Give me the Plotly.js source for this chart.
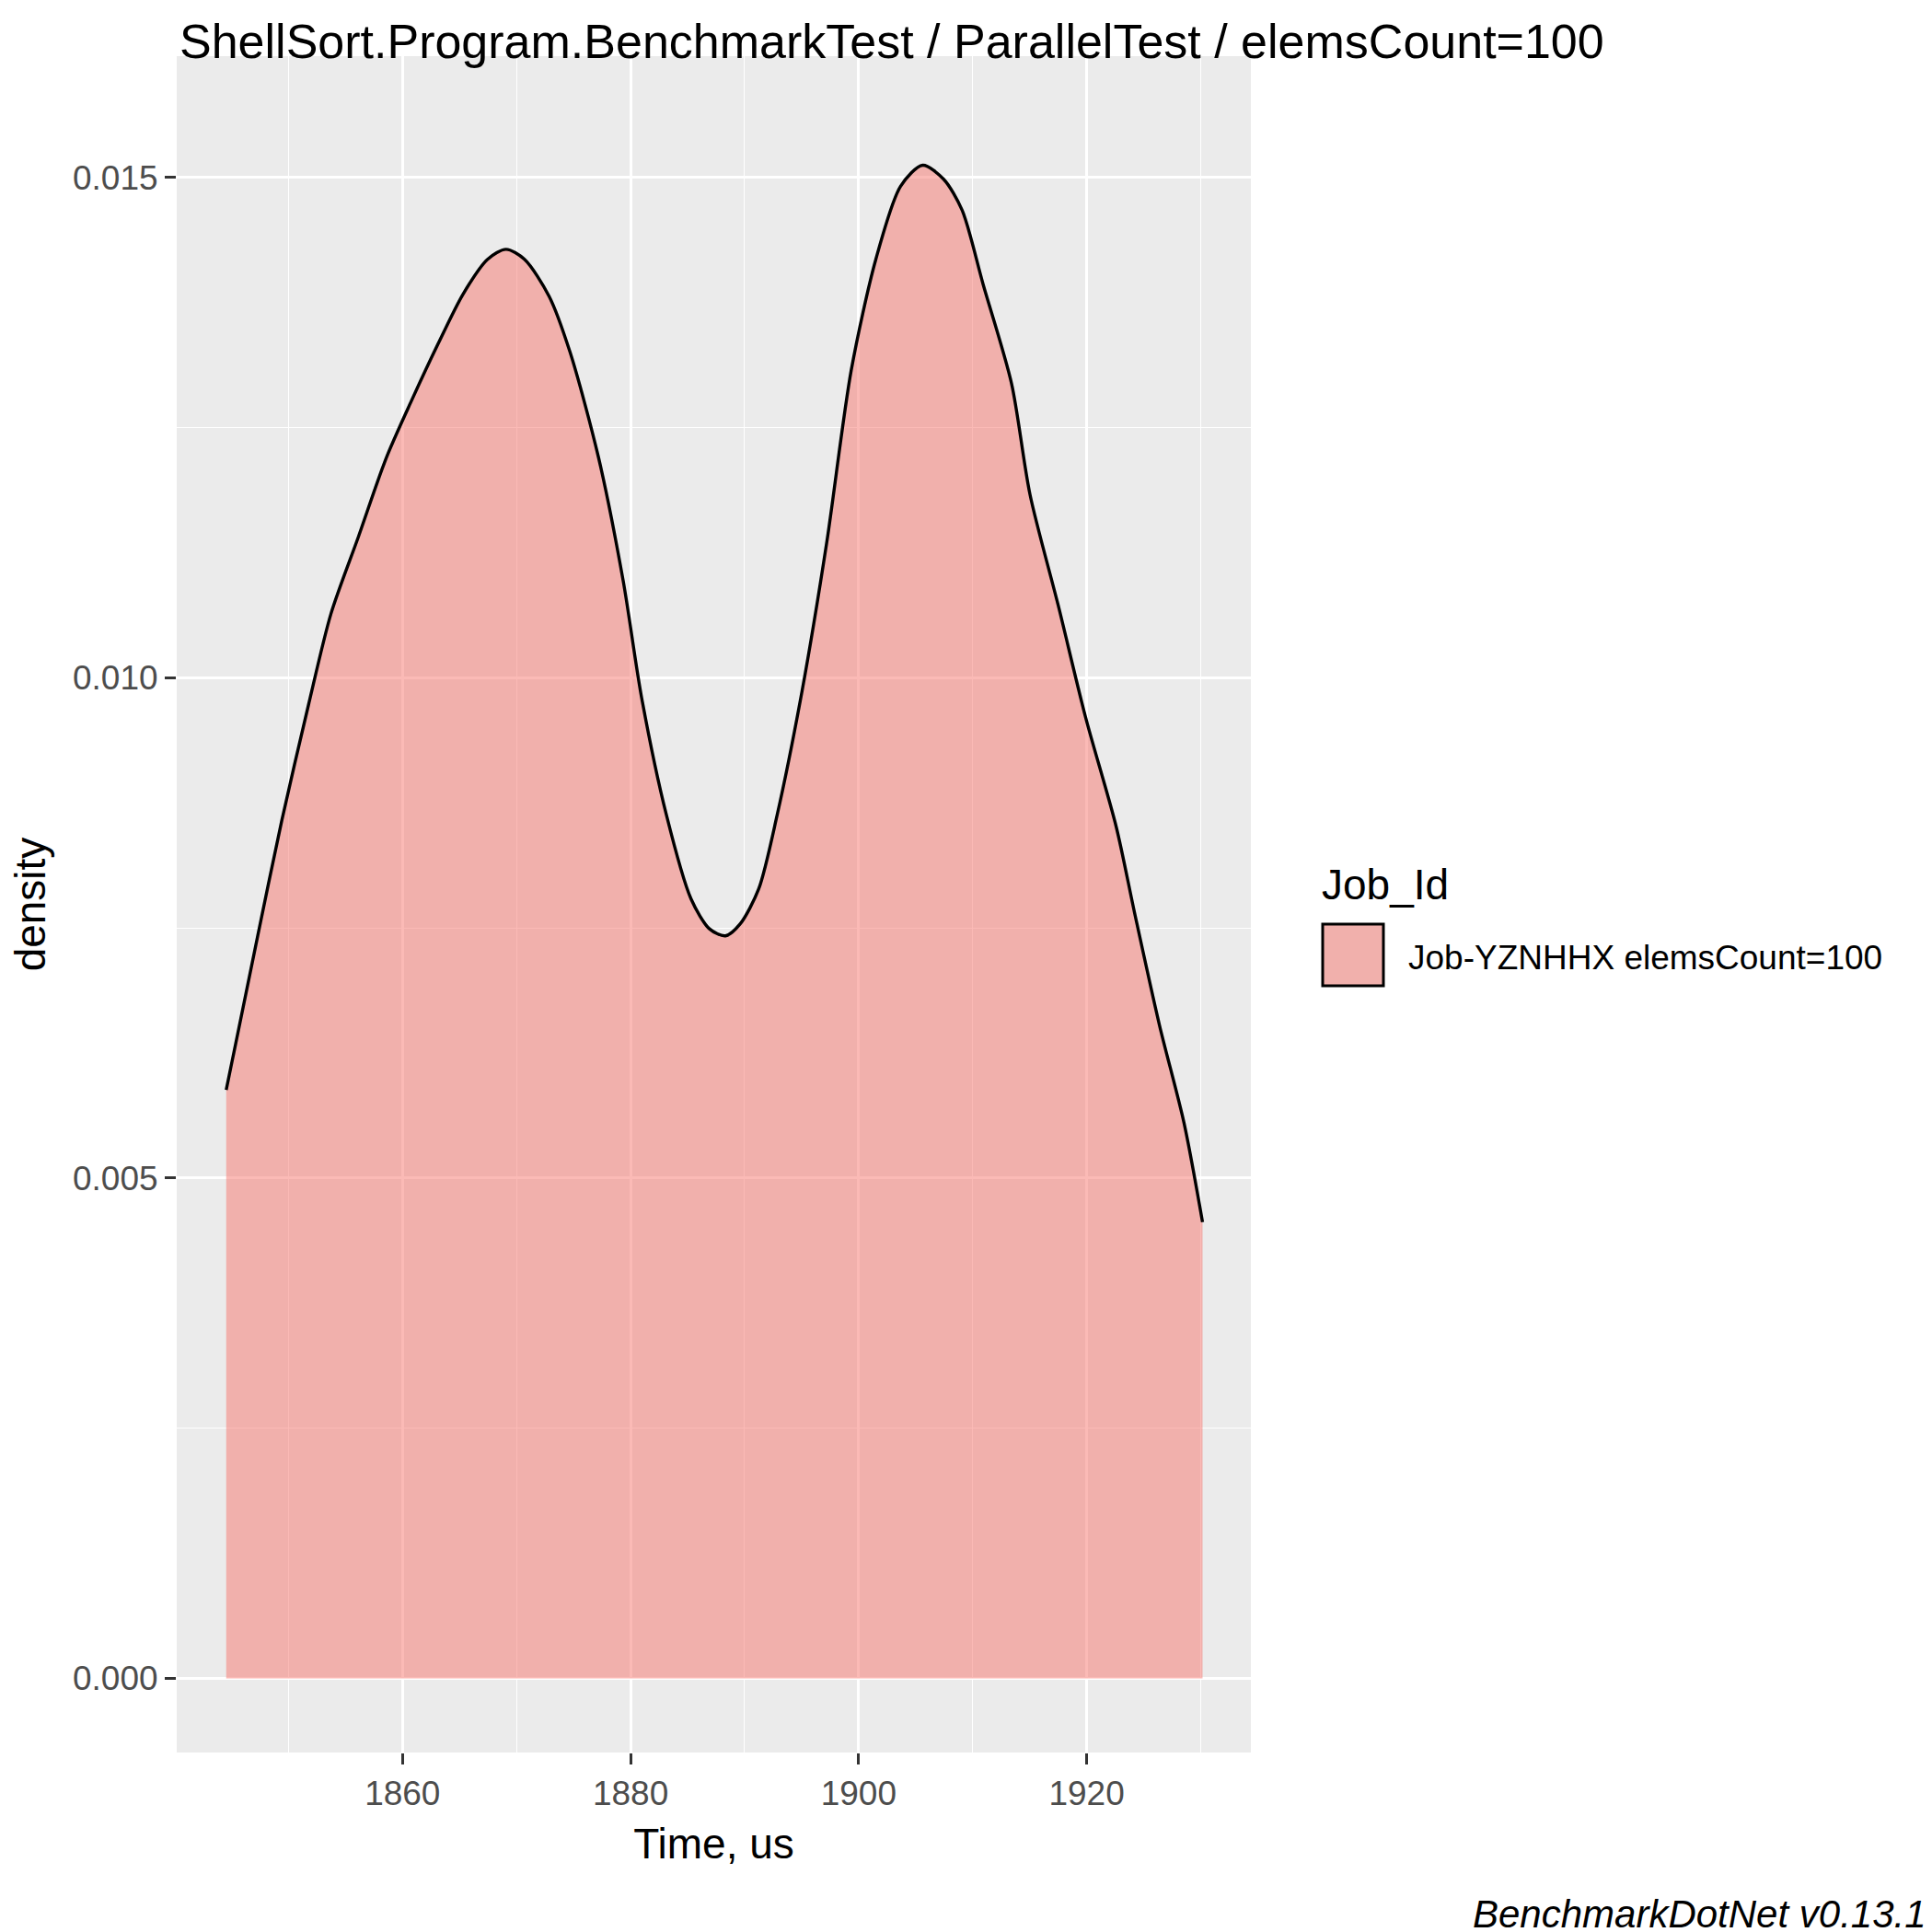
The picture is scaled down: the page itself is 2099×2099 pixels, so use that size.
<!DOCTYPE html>
<html><head><script src="https://cdn.plot.ly/plotly-3.0.1.min.js"></script>
<style>body{margin:0;background:#fff}</style></head>
<body><div id="c" style="width:2099px;height:2099px"></div>
<script>
const times=[1844.54,1847.14,1849.41,1851.78,1853.73,1856.11,1858.59,1860.76,1863.14,1865.30,1867.46,1869.08,1870.70,1872.86,1874.70,1877.19,1879.35,1880.97,1883.14,1885.30,1886.92,1888.32,1889.62,1891.24,1892.86,1895.03,1897.19,1899.35,1901.51,1903.68,1905.62,1907.46,1909.08,1910.92,1913.41,1915.03,1917.51,1919.89,1922.59,1924.22,1926.38,1928.54,1930.16];
const density=[0.00588,0.00733,0.00857,0.00974,0.01064,0.0114,0.0122,0.01276,0.01334,0.01383,0.01418,0.01428,0.01418,0.01381,0.01325,0.0122,0.01097,0.0098,0.00863,0.00779,0.00749,0.00742,0.00754,0.00789,0.00863,0.00986,0.01134,0.01307,0.01418,0.01491,0.01512,0.01498,0.01467,0.01393,0.01294,0.01183,0.01072,0.00961,0.00851,0.00764,0.00653,0.00555,0.00456];
const xTicks=[1860,1880,1900,1920];
const yTicks=[0,0.005,0.010,0.015];
const yTickLabels=['0.000','0.005','0.010','0.015'];
const seriesName='Job-YZNHHX elemsCount=100';
const L=192,R=1359,T=61,B=1904,W=R-L,H=B-T;
const px=v=>(v-L)/W, py=v=>(B-v)/H;
const fnt='Liberation Sans, Arial, sans-serif';
Plotly.newPlot('c',[{x:times,y:density,type:'scatter',mode:'lines',line:{color:'#000',width:3.4,shape:'spline',smoothing:0.8},fill:'tozeroy',fillcolor:'rgba(248,118,109,0.5)',showlegend:false,hoverinfo:'skip'}],{
width:2099,height:2099,paper_bgcolor:'#fff',plot_bgcolor:'#EBEBEB',
margin:{l:L,r:2099-R,t:T,b:2099-B},showlegend:false,
title:{text:'ShellSort.Program.BenchmarkTest / ParallelTest / elemsCount=100',x:195/2099,xanchor:'left',y:1-45/2099,yanchor:'middle',font:{family:fnt,size:52,color:'#000'}},
xaxis:{range:[1840.2,1934.4],tickvals:xTicks,ticks:'outside',ticklen:12,tickwidth:2.5,tickcolor:'#333',tickfont:{family:fnt,size:37,color:'#4D4D4D'},showgrid:true,gridcolor:'#fff',gridwidth:2.8,zeroline:false,showline:false,
 minor:{tickvals:[1850,1870,1890,1910,1930],showgrid:true,gridcolor:'#fff',gridwidth:1.4,ticks:''},
 title:{text:'Time, us',font:{family:fnt,size:46,color:'#000'},standoff:18}},
yaxis:{range:[-0.00074,0.01621],tickvals:yTicks,ticktext:yTickLabels,ticks:'outside',ticklen:12,tickwidth:2.5,tickcolor:'#333',tickfont:{family:fnt,size:37,color:'#4D4D4D'},showgrid:true,gridcolor:'#fff',gridwidth:2.8,zeroline:false,showline:false,
 minor:{tickvals:[0.0025,0.0075,0.0125],showgrid:true,gridcolor:'#fff',gridwidth:1.4,ticks:''},
 title:{text:'density',font:{family:fnt,size:46,color:'#000'},standoff:14}},
shapes:[{type:'rect',xref:'paper',yref:'paper',x0:px(1437),x1:px(1503),y0:py(1071),y1:py(1004),fillcolor:'#F1B0AC',line:{color:'#000',width:3}}],
annotations:[
{text:'Job_Id',xref:'paper',yref:'paper',x:px(1434),y:py(961),xanchor:'left',yanchor:'middle',showarrow:false,font:{family:fnt,size:46,color:'#000'}},
{text:seriesName,xref:'paper',yref:'paper',x:px(1528),y:py(1040),xanchor:'left',yanchor:'middle',showarrow:false,font:{family:fnt,size:37,color:'#000'}},
{text:'<i>BenchmarkDotNet v0.13.1</i>',xref:'paper',yref:'paper',x:px(2095),y:py(2079),xanchor:'right',yanchor:'middle',showarrow:false,font:{family:fnt,size:42,color:'#000'}}
]},{displayModeBar:false});
</script></body></html>
